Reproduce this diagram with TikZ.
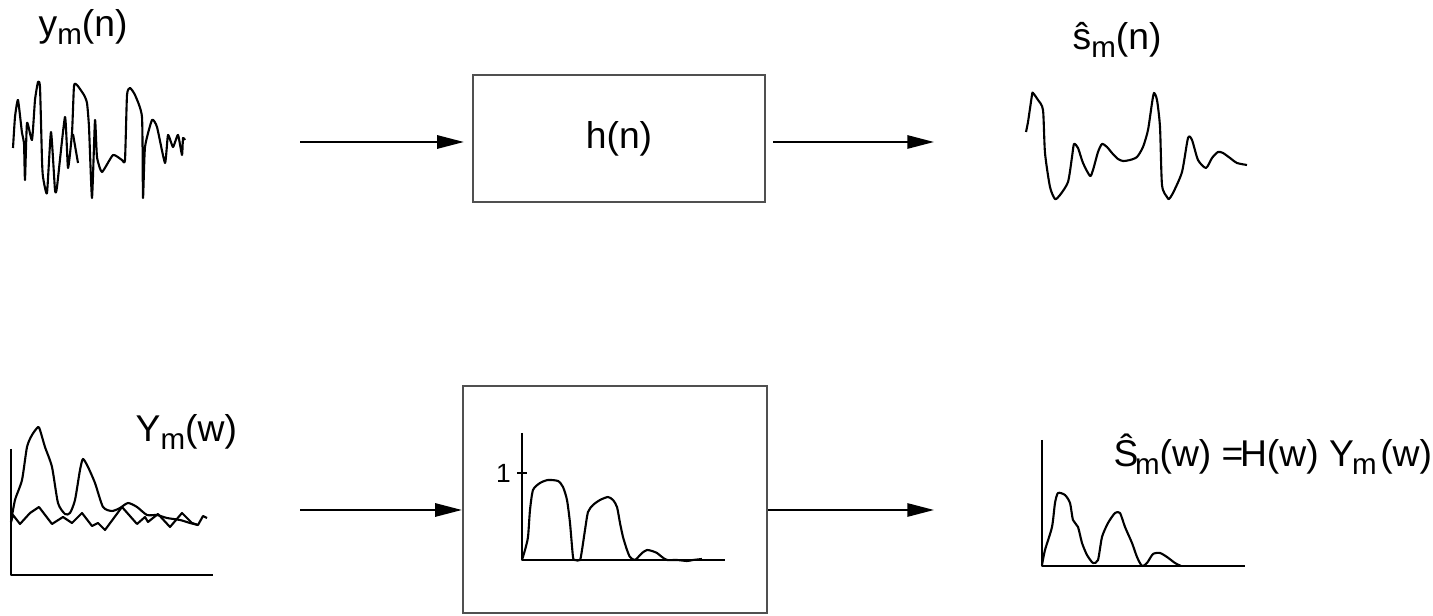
\documentclass[tikz,border=0pt]{standalone}
\usepackage{fontspec}
\setmainfont{Liberation Sans}
\usetikzlibrary{arrows.meta,positioning}
\definecolor{BoxGray}{RGB}{80,80,80}
\newcommand\lowsub[1]{\raisebox{-2.2pt}{\fontsize{8.4}{9}\selectfont#1}}

\begin{document}
\begin{tikzpicture}[x=0.01cm,y=-0.01cm,>={Triangle[length=7.6pt,width=3.8pt]},
    lbl/.style={font=\fontsize{10.6}{13}\selectfont,inner sep=0pt},
    blk/.style={draw=BoxGray,line width=0.6pt,inner sep=0pt},
    flow/.style={->,line width=0.5pt},
    sig/.style={line width=0.6pt,line join=round}]
      \useasboundingbox (0,0) rectangle (1433,616);
      % top row: time domain
      \node[lbl,anchor=base west] (ylab) at (38,37) {y\lowsub{m}(n)};
      \draw[sig] plot[smooth,tension=0.3] coordinates {(13,148) (15,117) (18,100) (22,133) (24,143) (25,180)
        (27,123) (32,140) (35,100) (38,82) (40,87) (42,160) (43,177) (47,193) (51,132) (55,190) (57,187)
        (65,117) (68,168) (72,133) (74,86) (77,85) (84,95) (87,103) (89,127) (92,198) (95,120) (97,157)
        (102,172) (113,155) (122,160) (125,160) (127,95) (130,88) (135,95) (142,117) (143,198) (145,147)
        (152,120) (157,127) (165,163) (168,135) (173,147) (178,135) (182,155) (183,138) (185,140)};
      \draw[sig] (73,134)--(78,163);
      \node[blk,lbl,minimum width=2.92cm,minimum height=1.27cm] (hbox) at (619,138.5) {h(n)};
      \coordinate (in1) at (300,142);
      \coordinate (out1) at (934,142);
      \draw[flow,shorten >=0.08cm] (in1) -- (in1 -| hbox.west);
      \draw[flow,shorten <=0.07cm] (hbox.east |- out1) -- (out1);
      \node[lbl,anchor=base west] (slab) at (1072,50) {\^{s}\lowsub{m}(n)};
      \draw[sig] plot[smooth,tension=0.4] coordinates {(1026,132) (1028,122) (1032,95) (1033,93) (1038,100)
        (1043,110) (1045,153) (1050,187) (1055,199) (1060,195) (1068,182) (1072,157) (1074,144) (1078,148)
        (1083,163) (1090,176) (1093,170) (1098,152) (1102,144) (1107,147) (1112,153) (1118,159) (1123,161)
        (1130,160) (1137,157) (1143,147) (1148,130) (1152,103) (1154,93) (1157,100) (1160,127) (1162,185)
        (1167,197) (1169,199) (1173,193) (1182,172) (1188,138) (1192,140) (1198,160) (1206,168) (1212,158)
        (1218,152) (1223,153) (1230,158) (1237,163) (1247,165)};
      % bottom row: spectra
      \draw[sig] (11,449) -- (11,575) -- (213,575);
      \draw[sig] plot[smooth,tension=0.4] coordinates {(11,522) (15,500) (22,480) (27,447) (32,435) (38,427)
        (40,430) (45,447) (52,467) (58,503) (65,514) (70,513) (75,500) (80,470) (83,459) (88,467) (95,483)
        (103,507) (112,511) (120,508) (128,503) (137,507) (147,515) (157,515) (167,518) (180,520) (190,523) (198,525)};
      \draw[sig] (11,522) -- (13,515) -- (20,524) -- (30,513) -- (39,507) -- (52,524) -- (63,517) -- (72,523)
        -- (82,513) -- (92,526) -- (98,523) -- (105,530) -- (122,507) -- (137,524) -- (145,517) -- (148,522)
        -- (158,514) -- (170,527) -- (182,513) -- (192,523) -- (198,525) -- (203,516) -- (207,518);
      \node[lbl,anchor=base west] (Ylab) at (135,442) {Y\lowsub{m}(w)};
      \node[blk,minimum width=3.04cm,minimum height=2.27cm] (Hbox) at (615,499.5) {};
      \draw[sig] (522,433) -- (522,560) -- (725,560);
      \draw[sig] (517,473) -- (527,473);
      \node[font=\fontsize{7.5}{9}\selectfont,anchor=east,inner sep=1pt] (one) at (515,473) {1};
      \draw[sig] plot[smooth,tension=0.4] coordinates {(522,560) (525,550) (528,537) (530,510) (533,490) (540,483)
        (548,480) (558,481) (563,487) (567,500) (570,523) (573,557) (575,560) (580,560) (582,550) (585,530)
        (588,512) (593,505) (600,500) (608,497) (613,500) (617,507) (620,523) (623,537) (627,550) (630,557)
        (635,560) (642,553) (647,550) (652,551) (657,553) (662,557) (667,560) (677,560) (687,561) (693,560) (702,559)};
      \coordinate (in2) at (300,510);
      \coordinate (out2) at (934,510);
      \draw[flow] (in2) -- (in2 -| Hbox.west);
      \draw[flow] (Hbox.east |- out2) -- (out2);
      \draw[sig] (1042,440) -- (1042,566) -- (1245,566);
      \draw[sig] plot[smooth,tension=0.4] coordinates {(1042,565) (1045,550) (1052,527) (1055,503) (1058,493)
        (1065,495) (1070,503) (1073,520) (1078,527) (1082,543) (1087,555) (1093,563) (1098,560) (1102,537)
        (1108,523) (1115,513) (1120,513) (1125,527) (1132,543) (1137,557) (1142,566) (1147,563) (1153,554)
        (1160,553) (1167,557) (1175,563) (1181,566)};
      \node[lbl,anchor=base west] (eqlab) at (1113,467)
        {\^{S}\kern-1pt\lowsub{m}(w) =\kern-1pt H(w) Y\kern-0.5pt\lowsub{m}\kern1pt(w)};
    \end{tikzpicture}
\end{document}
